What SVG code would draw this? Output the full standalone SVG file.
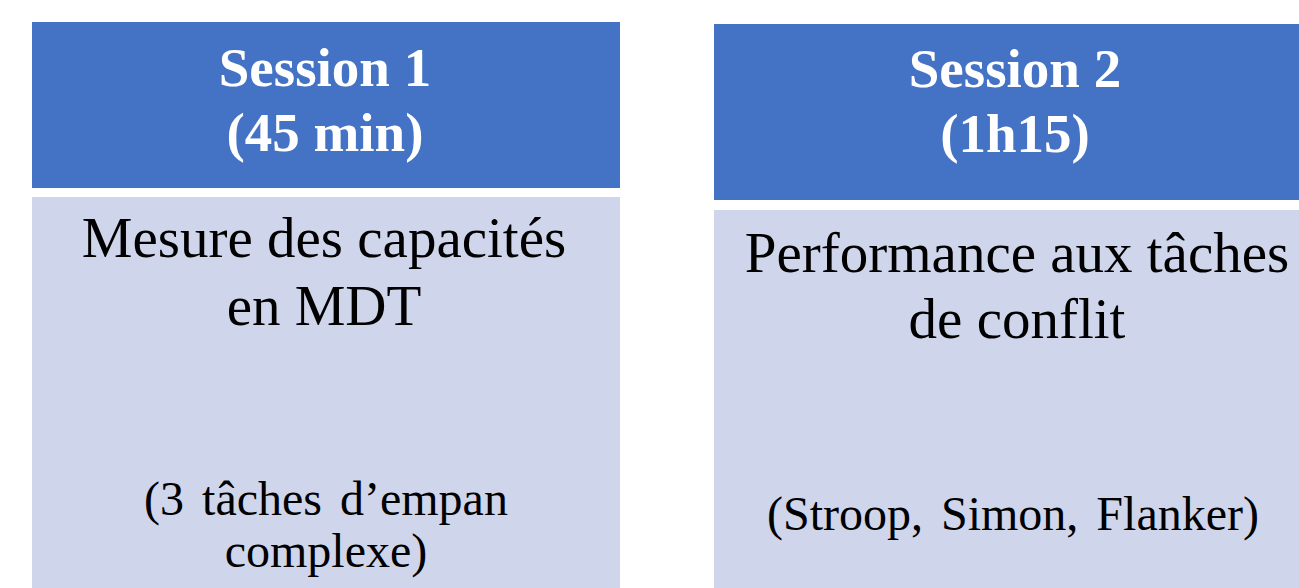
<svg xmlns="http://www.w3.org/2000/svg" width="1299" height="588" viewBox="0 0 1299 588">
<style>
.hd{fill:#4472C4}
.bd{fill:#CFD5EA}
.ht{font-family:'Liberation Serif','DejaVu Serif',serif;font-weight:700;font-size:55px;fill:#FFFFFF;text-anchor:middle}
.bt{font-family:'Liberation Serif','DejaVu Serif',serif;font-weight:400;font-size:57px;fill:#000000;text-anchor:middle}
.st{font-family:'Liberation Serif','DejaVu Serif',serif;font-weight:400;font-size:48px;fill:#000000;text-anchor:middle;word-spacing:6px}
</style>
<rect width="1299" height="588" fill="#FFFFFF"/>
<g id="session1">
<rect class="hd" x="32" y="22" width="588" height="166"/>
<rect class="bd" x="32" y="197" width="588" height="391"/>
<text class="ht" x="325" y="86">Session 1</text>
<text class="ht" x="325" y="151">(45 min)</text>
<text class="bt" x="324" y="257">Mesure des capacités</text>
<text class="bt" x="324" y="325">en MDT</text>
<text class="st" x="326" y="515">(3 tâches d’empan</text>
<text class="st" x="326" y="567">complexe)</text>
</g>
<g id="session2">
<rect class="hd" x="714" y="24" width="602" height="176"/>
<rect class="bd" x="714" y="210" width="602" height="378"/>
<text class="ht" x="1015" y="87">Session 2</text>
<text class="ht" x="1015" y="152">(1h15)</text>
<text class="bt" x="1017" y="272">Performance aux tâches</text>
<text class="bt" x="1017" y="338">de conflit</text>
<text class="st" x="1013" y="530">(Stroop, Simon, Flanker)</text>
</g>
<g id="connectors"/>
</svg>
